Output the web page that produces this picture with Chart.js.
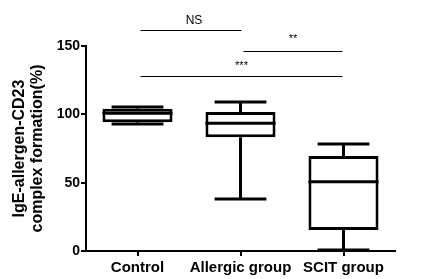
<!DOCTYPE html>
<html><head><meta charset="utf-8">
<script src="https://cdn.jsdelivr.net/npm/chart.js@4/dist/chart.umd.min.js"></script>
<style>html,body{margin:0;padding:0;background:#fff}#wrap{width:435px;height:279px}</style>
</head><body><div id="wrap"><canvas id="c" width="435" height="279"></canvas></div>
<script>
const categories = ["Control", "Allergic group", "SCIT group"];
const whiskerMin = [93, 38, 0.7];
const q1 = [94.2, 83.2, 15.4];
const median = [100.8, 93.4, 50.7];
const q3 = [104, 101.7, 69.5];
const whiskerMax = [105.4, 109, 78.3];
const yTicks = [0, 50, 100, 150];
const sigLabels = ["NS", "**", "***"];
const sigFrom = [0, 1, 0];
const sigTo = [1, 2, 2];
const sigLevel = [161.5, 146.6, 127.8];

const FONT = "'Liberation Sans', Arial, sans-serif";

const boxPlugin = {
  id: 'boxParts',
  afterDatasetsDraw(chart) {
    const ctx = chart.ctx, xs = chart.scales.x, ys = chart.scales.y;
    const meta = chart.getDatasetMeta(0);
    ctx.save();
    ctx.strokeStyle = '#000';
    ctx.lineWidth = 3;
    ctx.lineCap = 'butt';
    categories.forEach((c, i) => {
      const bar = meta.data[i];
      const cx = xs.getPixelForValue(i);
      const half = bar.width / 2;
      const capHalf = half * 0.74;
      const yMin = ys.getPixelForValue(whiskerMin[i]);
      const yQ1 = ys.getPixelForValue(q1[i]);
      const yMed = ys.getPixelForValue(median[i]);
      const yQ3 = ys.getPixelForValue(q3[i]);
      const yMax = ys.getPixelForValue(whiskerMax[i]);
      ctx.beginPath();
      ctx.moveTo(cx, yQ3); ctx.lineTo(cx, yMax);
      ctx.moveTo(cx - capHalf, yMax); ctx.lineTo(cx + capHalf, yMax);
      ctx.moveTo(cx, yQ1); ctx.lineTo(cx, yMin);
      ctx.moveTo(cx - capHalf, yMin); ctx.lineTo(cx + capHalf, yMin);
      ctx.moveTo(cx - half, yMed); ctx.lineTo(cx + half, yMed);
      ctx.stroke();
    });
    // significance annotations
    ctx.lineWidth = 1;
    ctx.fillStyle = '#000';
    ctx.textAlign = 'center';
    ctx.textBaseline = 'bottom';
    sigLabels.forEach((lab, k) => {
      const x1 = xs.getPixelForValue(sigFrom[k]) + 3;
      const x2 = xs.getPixelForValue(sigTo[k]) + (k === 0 ? 1 : -1);
      const y = Math.round(ys.getPixelForValue(sigLevel[k])) + 0.5;
      ctx.beginPath(); ctx.moveTo(x1, y); ctx.lineTo(x2, y); ctx.stroke();
      ctx.font = (lab === 'NS' ? '12px ' : '11px ') + FONT;
      const dx = lab === 'NS' ? 3 : 0;
      const dy = lab === 'NS' ? 4 : (lab === '**' ? 7 : 5);
      ctx.fillText(lab, (x1 + x2) / 2 + dx, y - dy);
    });
    ctx.restore();
  }
};

new Chart(document.getElementById('c'), {
  type: 'bar',
  data: {
    labels: categories,
    datasets: [{
      data: categories.map((c, i) => [q1[i], q3[i]]),
      backgroundColor: '#fff',
      borderColor: '#000',
      borderWidth: 3,
      borderSkipped: false,
      categoryPercentage: 1,
      barPercentage: 0.68
    }]
  },
  plugins: [boxPlugin],
  options: {
    responsive: false,
    animation: false,
    devicePixelRatio: 1,
    layout: { padding: { top: 46, right: 40, left: 0, bottom: 0 } },
    plugins: { legend: { display: false }, tooltip: { enabled: false } },
    scales: {
      x: {
        offset: true,
        grid: { offset: false, drawOnChartArea: false, drawTicks: true, tickLength: 5, color: '#000', lineWidth: 2 },
        border: { display: true, color: '#000', width: 2 },
        ticks: { color: '#000', font: { family: FONT, size: 15, weight: 'bold' }, padding: 3, maxRotation: 0, autoSkip: false },
        afterFit(s) { s.height = 28; }
      },
      y: {
        min: 0, max: 150,
        afterBuildTicks(s) { s.ticks = yTicks.map(v => ({ value: v })); },
        grid: { drawOnChartArea: false, drawTicks: true, tickLength: 5, color: '#000', lineWidth: 2 },
        border: { display: true, color: '#000', width: 2 },
        ticks: { color: '#000', font: { family: FONT, size: 14, weight: 'bold' }, padding: 1 },
        title: {
          display: true,
          text: ["IgE-allergen-CD23", "complex formation(%)"],
          color: '#000',
          font: { family: FONT, size: 16, weight: 'bold', lineHeight: 1.12 },
          padding: { top: 11, bottom: 0 }
        },
        afterFit(s) { s.width = 86; }
      }
    }
  }
});
</script>
</body></html>
